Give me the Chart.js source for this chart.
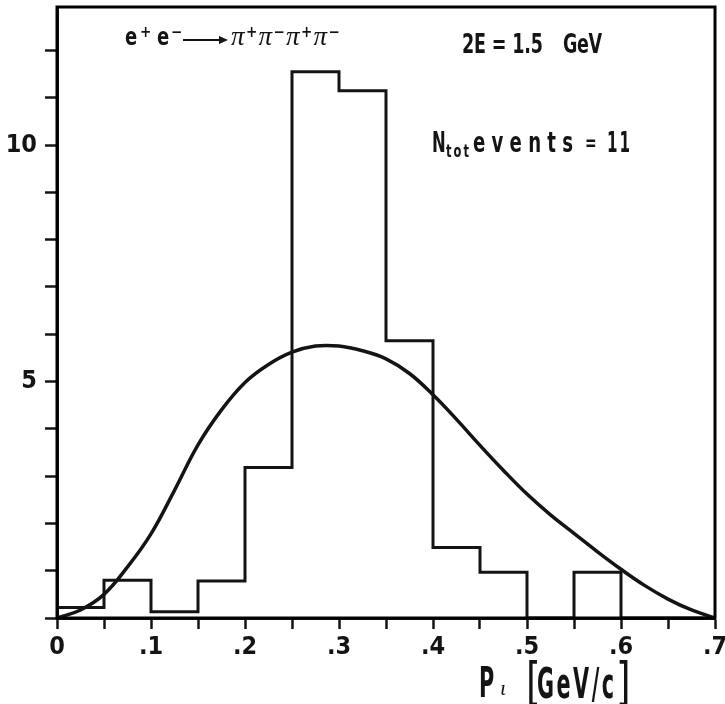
<!DOCTYPE html>
<html><head><meta charset="utf-8">
<script src="https://cdn.jsdelivr.net/npm/chart.js@4.4.1/dist/chart.umd.min.js"></script>
<style>html,body{margin:0;padding:0;background:#fff}#wrap{width:725px;height:704px}</style>
</head><body><div id="wrap"><canvas id="c" width="725" height="704"></canvas></div>
<script>
// ---- data ----
const binEdges  = [0, 0.05, 0.1, 0.15, 0.2, 0.25, 0.3, 0.35, 0.4, 0.45, 0.5, 0.55, 0.6, 0.65];
const binRight  = 0.7;
const binCounts = [0.22, 0.8, 0.13, 0.78, 3.18, 11.55, 11.15, 5.86, 1.49, 0.97, 0, 0.97, 0, 0];
const curveX = [0, 0.025, 0.05, 0.075, 0.1, 0.125, 0.15, 0.175, 0.2, 0.225, 0.25, 0.275, 0.3, 0.325, 0.35,
                0.375, 0.4, 0.425, 0.45, 0.475, 0.5, 0.525, 0.55, 0.575, 0.6, 0.625, 0.65, 0.675, 0.7];
const curveY = [0, 0.17, 0.5, 1.08, 1.78, 2.7, 3.66, 4.4, 4.98, 5.36, 5.62, 5.75, 5.75, 5.65, 5.48,
                5.17, 4.72, 4.2, 3.65, 3.12, 2.62, 2.18, 1.79, 1.4, 1.03, 0.69, 0.4, 0.17, 0];
const xTickValues = [0, 0.1, 0.2, 0.3, 0.4, 0.5, 0.6, 0.7];
const xTickTexts  = ['0', '.1', '.2', '.3', '.4', '.5', '.6', '.7'];
const yTickValues = [5, 10];
const yTickTexts  = ['5', '10'];
const xMin = 0, xMax = 0.7, yMin = 0, yMax = 12.92;

const INK = '#141414';
const NARROW = "'Liberation Sans Narrow','DejaVu Sans Condensed','Liberation Sans',sans-serif";
const SERIF = "'Liberation Serif','DejaVu Serif',serif";

function drawFit(ctx, text, font, xl, xr, base, sx) {
  ctx.save();
  ctx.font = font;
  ctx.textBaseline = 'alphabetic';
  ctx.textAlign = 'left';
  const chars = Array.from(text);
  const widths = chars.map(c => ctx.measureText(c).width * sx);
  const total = widths.reduce((a, b) => a + b, 0);
  const gap = chars.length > 1 ? (xr - xl - total) / (chars.length - 1) : 0;
  let x = xl;
  chars.forEach((c, i) => {
    ctx.save();
    ctx.translate(x, base);
    ctx.scale(sx, 1);
    ctx.fillText(c, 0, 0);
    ctx.restore();
    x += widths[i] + gap;
  });
  ctx.restore();
}
function drawAt(ctx, text, font, x, base, sx) {
  ctx.save();
  ctx.font = font;
  ctx.textBaseline = 'alphabetic';
  ctx.textAlign = 'left';
  ctx.translate(x, base);
  ctx.scale(sx || 1, 1);
  ctx.fillText(text, 0, 0);
  ctx.restore();
}

const annotations = {
  id: 'annotations',
  afterDraw(chart) {
    const ctx = chart.ctx;
    ctx.save();
    ctx.fillStyle = INK;
    ctx.strokeStyle = INK;

    // e+ e- -> pi+ pi- pi+ pi-
    drawAt(ctx, 'e', 'bold 25px ' + NARROW, 125, 45, 0.8);
    drawAt(ctx, '+', 'bold 15px ' + NARROW, 140, 37, 1);
    drawAt(ctx, 'e', 'bold 25px ' + NARROW, 157, 45, 0.8);
    drawAt(ctx, '\u2212', 'bold 15px ' + NARROW, 171, 37, 1);
    ctx.lineWidth = 2;
    ctx.beginPath(); ctx.moveTo(183, 40); ctx.lineTo(221, 40); ctx.stroke();
    ctx.beginPath(); ctx.moveTo(228, 40); ctx.lineTo(219, 36); ctx.lineTo(219, 44); ctx.closePath(); ctx.fill();
    const sups = ['+', '\u2212', '+', '\u2212'];
    for (let i = 0; i < 4; i++) {
      const x0 = 231 + i * 27.5;
      drawAt(ctx, '\u03C0', 'italic 27px ' + SERIF, x0, 45, 1);
      drawAt(ctx, sups[i], 'bold 15px ' + NARROW, x0 + 15, 37, 1);
    }

    // 2E = 1.5 GeV
    drawFit(ctx, '2E = 1.5', 'bold 26px ' + NARROW, 462, 543, 53, 0.75);
    drawFit(ctx, 'GeV', 'bold 26px ' + NARROW, 563, 602, 53, 0.75);

    // N_tot events = 11
    drawAt(ctx, 'N', 'bold 28px ' + NARROW, 432, 152, 0.65);
    drawFit(ctx, 'tot', 'bold 17px ' + NARROW, 446, 469, 157, 0.75);
    drawFit(ctx, 'events', 'bold 28px ' + NARROW, 473, 573, 152, 0.72);
    drawFit(ctx, '=', 'bold 22px ' + NARROW, 585, 596, 150, 0.7);
    drawFit(ctx, '11', 'bold 28px ' + NARROW, 607, 630, 152, 0.6);

    // axis title  P_t [GeV/c]
    drawAt(ctx, 'P', 'bold 42px ' + NARROW, 479, 697, 0.55);
    drawAt(ctx, '\u03B9', 'italic 22px ' + SERIF, 500, 695, 1);
    drawAt(ctx, '[', '52px ' + NARROW, 526, 699, 0.8);
    drawFit(ctx, 'GeV/c', 'bold 42px ' + NARROW, 537, 614, 698, 0.55);
    drawAt(ctx, ']', '52px ' + NARROW, 616, 699, 0.8);
    ctx.restore();

    // frame around the plotting area (same call that rendered in the test page)
    const a = chart.chartArea;
    ctx.save();
    ctx.strokeStyle = '#000000';
    ctx.lineWidth = 3;
    ctx.strokeRect(a.left, a.top, a.right - a.left, a.bottom - a.top);
    ctx.restore();
  }
};

const histData = binEdges.map((x, i) => ({ x: x, y: binCounts[i] }))
  .concat([{ x: binRight, y: binCounts[binCounts.length - 1] }]);
const curveData = curveX.map((x, i) => ({ x: x, y: curveY[i] }));

new Chart(document.getElementById('c'), {
  type: 'line',
  data: {
    datasets: [
      { label: 'histogram', data: histData, stepped: true, borderColor: INK, borderWidth: 3,
        pointRadius: 0, fill: false, borderJoinStyle: 'miter' },
      { label: 'fit', data: curveData, borderColor: INK, borderWidth: 3.5, pointRadius: 0,
        fill: false, tension: 0.4 }
    ]
  },
  options: {
    responsive: false,
    animation: false,
    devicePixelRatio: 1,
    layout: { padding: { top: 7, right: 10, left: 0, bottom: 0 } },
    plugins: { legend: { display: false }, tooltip: { enabled: false }, title: { display: false } },
    scales: {
      x: {
        type: 'linear', min: xMin, max: xMax,
        afterFit(s) { s.height = 86; s.paddingLeft = 0; s.paddingRight = 0; },
        border: { display: true, color: INK, width: 3 },
        grid: { drawOnChartArea: false, drawTicks: true, tickLength: 11, tickColor: INK, tickWidth: 2.5 },
        ticks: {
          stepSize: 0.05, autoSkip: false, maxRotation: 0, includeBounds: false, padding: 3,
          color: INK, font: { family: NARROW, size: 25, weight: 'bold' },
          callback(v) {
            const i = xTickValues.findIndex(t => Math.abs(t - v) < 1e-6);
            return i >= 0 ? xTickTexts[i] : '';
          }
        }
      },
      y: {
        type: 'linear', min: yMin, max: yMax,
        afterFit(s) { s.width = 57; s.paddingTop = 0; s.paddingBottom = 0; },
        border: { display: true, color: INK, width: 3 },
        grid: { drawOnChartArea: false, drawTicks: true, tickLength: 12, tickColor: INK, tickWidth: 2.5 },
        ticks: {
          stepSize: 1, autoSkip: false, includeBounds: false, padding: 8,
          color: INK, font: { family: NARROW, size: 25, weight: 'bold' },
          callback(v) {
            const i = yTickValues.findIndex(t => Math.abs(t - v) < 1e-6);
            return i >= 0 ? yTickTexts[i] : '';
          }
        }
      }
    }
  },
  plugins: [annotations]
});
</script>
</body></html>
